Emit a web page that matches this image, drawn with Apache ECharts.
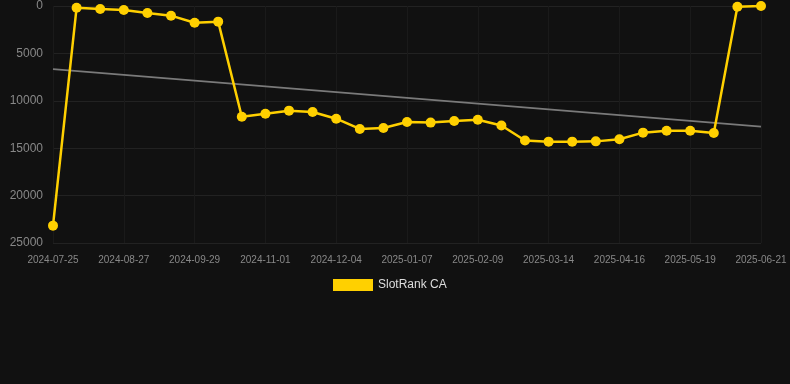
<!DOCTYPE html>
<html>
<head>
<meta charset="utf-8">
<script src="https://cdn.jsdelivr.net/npm/echarts@6/dist/echarts.min.js"></script>
<style>
html,body{margin:0;padding:0;background:#111111;}
#chart{width:790px;height:384px;}
</style>
</head>
<body>
<div id="chart"></div>
<script>
var categories = ['2024-07-25','2024-08-05','2024-08-16','2024-08-27','2024-09-07','2024-09-18','2024-09-29','2024-10-10','2024-10-21','2024-11-01','2024-11-12','2024-11-23','2024-12-04','2024-12-15','2024-12-26','2025-01-07','2025-01-18','2025-01-29','2025-02-09','2025-02-20','2025-03-03','2025-03-14','2025-03-25','2025-04-05','2025-04-16','2025-04-27','2025-05-08','2025-05-19','2025-05-30','2025-06-10','2025-06-21'];
var rankValues = [23170,180,320,420,740,1020,1760,1650,11680,11360,11040,11180,11890,12970,12870,12240,12300,12130,11990,12600,14190,14310,14310,14280,14060,13360,13150,13150,13400,70,0];
var trendStart = 6650;
var trendEnd = 12730;
var yTicks = [0,5000,10000,15000,20000,25000];

var trendData = categories.map(function(_, i){
  if (i === 0) return trendStart;
  if (i === categories.length - 1) return trendEnd;
  return null;
});

var chart = echarts.init(document.getElementById('chart'));
chart.setOption({
  backgroundColor: '#111111',
  animation: false,
  grid: {left: 53, right: 29, top: 6, bottom: 141},
  legend: {
    data: ['SlotRank CA'],
    bottom: 88,
    left: 328,
    itemWidth: 40,
    itemHeight: 12,
    icon: 'rect',
    textStyle: {color: '#dddddd', fontSize: 12, fontFamily: 'Liberation Sans, Arial, sans-serif'}
  },
  xAxis: {
    type: 'category',
    data: categories,
    boundaryGap: false,
    axisLine: {show: false},
    axisTick: {show: false},
    axisLabel: {interval: 2, color: '#888888', fontSize: 10, margin: 12, fontFamily: 'Liberation Sans, Arial, sans-serif'},
    splitLine: {show: true, interval: 2, lineStyle: {color: '#1a1a1a', width: 1}}
  },
  yAxis: {
    type: 'value',
    inverse: true,
    min: yTicks[0],
    max: yTicks[yTicks.length - 1],
    interval: yTicks[1] - yTicks[0],
    axisLine: {show: false},
    axisTick: {show: false},
    axisLabel: {color: '#888888', fontSize: 12, margin: 10, fontFamily: 'Liberation Sans, Arial, sans-serif',
      formatter: function(v){ return String(v); }},
    splitLine: {show: true, lineStyle: {color: '#222222', width: 1}}
  },
  series: [
    {
      name: 'SlotRank CA',
      type: 'line',
      data: rankValues,
      symbol: 'circle',
      symbolSize: 10,
      lineStyle: {color: '#ffd000', width: 2.5},
      itemStyle: {color: '#ffd000'},
      z: 3
    },
    {
      name: 'Trend',
      type: 'line',
      data: trendData,
      connectNulls: true,
      symbol: 'none',
      lineStyle: {color: '#7a7a7a', width: 1.8},
      itemStyle: {color: '#7a7a7a'},
      z: 2
    }
  ]
});
</script>
</body>
</html>
